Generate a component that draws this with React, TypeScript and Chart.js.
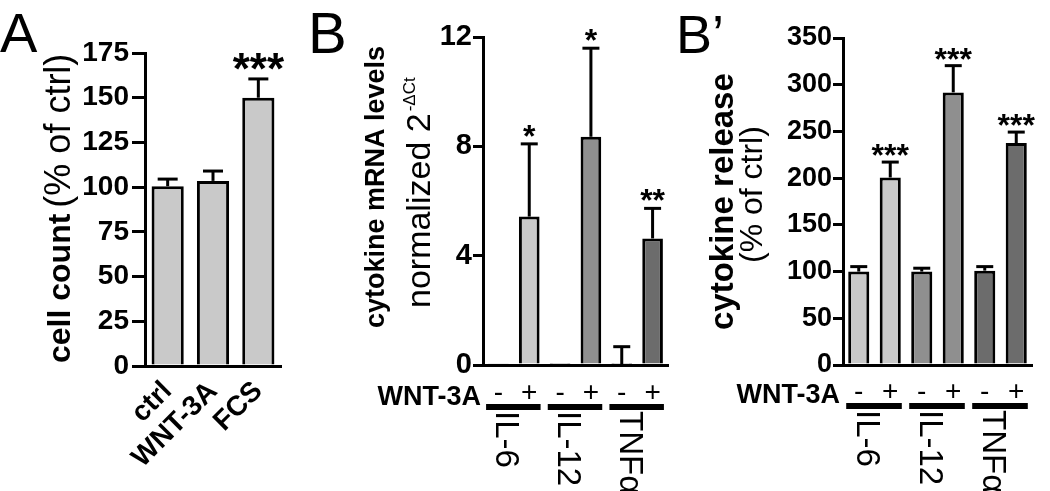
import React, { useEffect, useRef } from "react";
import { Chart, registerables } from "chart.js";

Chart.register(...registerables);

const FONT = '"Liberation Sans", Arial, Helvetica, sans-serif';
Chart.defaults.font.family = FONT;

// ---------- Panel A data ----------
const aCategories = ["ctrl", "WNT-3A", "FCS"];
const aValues = [100.5, 103.5, 150];
const aErrors = [4, 5.5, 10.5];
const aSignif = ["", "", "***"];

// ---------- Panels B / B' data ----------
const wntSigns = ["-", "+", "-", "+", "-", "+"];
const cytokines = ["IL-6", "IL-12", "TNFα"];
const mrnaValues = [0.05, 5.43, 0.03, 8.35, 0.02, 4.63];
const mrnaErrors = [0, 2.66, 0, 3.24, 0.65, 1.1];
const mrnaSignif = ["", "*", "", "*", "", "**"];
const releaseValues = [100, 200.7, 100, 291.8, 101, 237.5];
const releaseErrors = [5.3, 16.5, 3.6, 28.6, 4.3, 11.8];
const releaseSignif = ["", "***", "", "***", "", "***"];

const LIGHT = "#c9c9c9";
const cytokineColors = ["#c9c9c9", "#8f8f8f", "#6c6c6c"];

type Seg = { text: string; font: string; dy?: number; gap?: number };
type Title = { x: number; y: number; segs: Seg[] };

interface Panel {
  labels: string[];
  values: number[];
  errors: number[];
  signif: string[];
  colors: string[];
  yMax: number;
  yStep: number;
  area: { left: number; right: number; top: number; bottom: number };
  yFont: number;
  tickLen: number;
  tickPad: number;
  barPct: number;
  capW: number;
  starSize: number;
  starGap: number;
  xFontSize: number;
  xBold: boolean;
  xRotation: number;
  xPad: number;
  letter: { text: string; x: number; y: number; size: number };
  titles: Title[];
  groups?: { names: string[]; lineY: number; lineW: number; labelY: number; labelSize: number; wntX: number; wntY: number };
}

const bold = (s: number) => `bold ${s}px ${FONT}`;
const reg = (s: number) => `${s}px ${FONT}`;

const panels: Panel[] = [
  {
    labels: aCategories,
    values: aValues,
    errors: aErrors,
    signif: aSignif,
    colors: aCategories.map(() => LIGHT),
    yMax: 175,
    yStep: 25,
    area: { left: 145, right: 281, top: 53, bottom: 366 },
    yFont: 28,
    tickLen: 13,
    tickPad: 3,
    barPct: 0.71,
    capW: 20,
    starSize: 44,
    starGap: 9,
    xFontSize: 28,
    xBold: true,
    xRotation: 45,
    xPad: 9,
    letter: { text: "A", x: 0, y: 52, size: 56 },
    titles: [
      {
        x: 70,
        y: 363,
        segs: [
          { text: "cell count", font: bold(32) },
          { text: "(% of ctrl)", font: reg(36), gap: 6 },
        ],
      },
    ],
  },
  {
    labels: wntSigns,
    values: mrnaValues,
    errors: mrnaErrors,
    signif: mrnaSignif,
    colors: cytokines.flatMap((_, g) => [cytokineColors[g], cytokineColors[g]]),
    yMax: 12,
    yStep: 4,
    area: { left: 483, right: 668, top: 37, bottom: 365 },
    yFont: 29,
    tickLen: 10,
    tickPad: 1,
    barPct: 0.67,
    capW: 17,
    starSize: 32,
    starGap: 7,
    xFontSize: 28,
    xBold: false,
    xRotation: 0,
    xPad: 11,
    letter: { text: "B", x: 308, y: 53, size: 58 },
    titles: [
      { x: 384, y: 328, segs: [{ text: "cytokine mRNA levels", font: bold(27) }] },
      {
        x: 430,
        y: 308,
        segs: [
          { text: "normalized 2", font: reg(34) },
          { text: "-ΔCt", font: reg(17), dy: -15, gap: 2 },
        ],
      },
    ],
    groups: { names: cytokines, lineY: 407, lineW: 6, labelY: 411, labelSize: 33, wntX: 481, wntY: 405 },
  },
  {
    labels: wntSigns,
    values: releaseValues,
    errors: releaseErrors,
    signif: releaseSignif,
    colors: cytokines.flatMap((_, g) => [cytokineColors[g], cytokineColors[g]]),
    yMax: 350,
    yStep: 50,
    area: { left: 843, right: 1032, top: 38, bottom: 365 },
    yFont: 27,
    tickLen: 10,
    tickPad: 1,
    barPct: 0.67,
    capW: 17,
    starSize: 32,
    starGap: 6,
    xFontSize: 28,
    xBold: false,
    xRotation: 0,
    xPad: 10,
    letter: { text: "B\u2019", x: 676, y: 53, size: 54 },
    titles: [
      { x: 733, y: 330, segs: [{ text: "cytokine release", font: bold(33) }] },
      { x: 762, y: 263, segs: [{ text: "(% of ctrl)", font: reg(32) }] },
    ],
    groups: { names: cytokines, lineY: 406, lineW: 6, labelY: 410, labelSize: 33, wntX: 840, wntY: 403 },
  },
];

function drawRun(ctx: CanvasRenderingContext2D, x: number, y: number, angle: number, segs: Seg[]) {
  ctx.save();
  ctx.translate(x, y);
  ctx.rotate(angle);
  ctx.textAlign = "left";
  ctx.textBaseline = "alphabetic";
  ctx.fillStyle = "#000";
  let cx = 0;
  for (const s of segs) {
    cx += s.gap || 0;
    ctx.font = s.font;
    ctx.fillText(s.text, cx, s.dy || 0);
    cx += ctx.measureText(s.text).width;
  }
  ctx.restore();
}

function buildConfig(p: Panel): any {
  const overlay = {
    id: "overlay",
    afterDatasetsDraw(chart: any) {
      const ctx: CanvasRenderingContext2D = chart.ctx;
      const y = chart.scales.y;
      const meta = chart.getDatasetMeta(0);
      ctx.save();
      ctx.strokeStyle = "#000";
      ctx.fillStyle = "#000";
      ctx.lineWidth = 3;
      ctx.lineCap = "butt";
      // error bars
      meta.data.forEach((bar: any, i: number) => {
        const e = p.errors[i];
        if (!e) return;
        const top = y.getPixelForValue(p.values[i] + e);
        ctx.beginPath();
        ctx.moveTo(bar.x, bar.y);
        ctx.lineTo(bar.x, top);
        ctx.stroke();
        ctx.beginPath();
        ctx.moveTo(bar.x - p.capW / 2, top);
        ctx.lineTo(bar.x + p.capW / 2, top);
        ctx.stroke();
      });
      // significance stars
      ctx.font = bold(p.starSize);
      ctx.textAlign = "center";
      ctx.textBaseline = "alphabetic";
      meta.data.forEach((bar: any, i: number) => {
        const s = p.signif[i];
        if (!s) return;
        const top = y.getPixelForValue(p.values[i] + p.errors[i]);
        const m = ctx.measureText(s);
        const inkBottom = top - p.starGap;
        ctx.fillText(s, bar.x, inkBottom - m.actualBoundingBoxDescent);
      });
      ctx.restore();
    },
    afterDraw(chart: any) {
      const ctx: CanvasRenderingContext2D = chart.ctx;
      ctx.save();
      ctx.fillStyle = "#000";
      // panel letter
      ctx.font = reg(p.letter.size);
      ctx.textAlign = "left";
      ctx.textBaseline = "alphabetic";
      ctx.fillText(p.letter.text, p.letter.x, p.letter.y);
      // axis titles
      p.titles.forEach((t) => drawRun(ctx, t.x, t.y, -Math.PI / 2, t.segs));
      // grouping under x axis
      if (p.groups) {
        const g = p.groups;
        const meta = chart.getDatasetMeta(0);
        ctx.font = bold(27);
        ctx.textAlign = "right";
        ctx.fillText("WNT-3A", g.wntX, g.wntY);
        g.names.forEach((name, k) => {
          const a: any = meta.data[k * 2];
          const b: any = meta.data[k * 2 + 1];
          const x0 = a.x - a.width / 2 - 2;
          const x1 = b.x + b.width / 2 + 1;
          ctx.fillRect(x0, g.lineY - g.lineW / 2, x1 - x0, g.lineW);
          drawRun(ctx, a.x - 2, g.labelY, Math.PI / 2, [{ text: name, font: reg(g.labelSize) }]);
        });
      }
      ctx.restore();
    },
  };

  return {
    type: "bar",
    data: {
      labels: p.labels,
      datasets: [
        {
          data: p.values,
          backgroundColor: p.colors,
          borderColor: "#000",
          borderWidth: 3,
          barPercentage: p.barPct,
          categoryPercentage: 1,
        },
      ],
    },
    options: {
      responsive: false,
      animation: false,
      devicePixelRatio: 1,
      events: [],
      layout: { padding: { left: 0, top: p.area.top, right: 1050 - p.area.right, bottom: 0 } },
      plugins: { legend: { display: false }, tooltip: { enabled: false }, title: { display: false } },
      scales: {
        x: {
          ticks: {
            autoSkip: false,
            color: "#000",
            maxRotation: p.xRotation,
            minRotation: p.xRotation,
            padding: p.xPad,
            font: { family: FONT, size: p.xFontSize, weight: p.xBold ? "bold" : "normal" },
          },
          grid: { display: false, drawTicks: false },
          border: { display: true, width: 3, color: "#000" },
          afterFit: (s: any) => {
            s.height = 491 - p.area.bottom;
          },
        },
        y: {
          min: 0,
          max: p.yMax,
          ticks: {
            stepSize: p.yStep,
            color: "#000",
            padding: p.tickPad,
            font: { family: FONT, size: p.yFont, weight: "bold" },
          },
          grid: { drawOnChartArea: false, drawTicks: true, tickLength: p.tickLen, lineWidth: 3, color: "#000" },
          border: { display: true, width: 3, color: "#000" },
          afterFit: (s: any) => {
            s.width = p.area.left;
          },
        },
      },
    },
    plugins: [overlay],
  };
}

function PanelChart({ panel }: { panel: Panel }) {
  const ref = useRef<HTMLCanvasElement>(null);
  useEffect(() => {
    const chart = new Chart(ref.current as HTMLCanvasElement, buildConfig(panel));
    return () => chart.destroy();
  }, [panel]);
  return (
    <canvas
      ref={ref}
      width={1050}
      height={491}
      style={{ position: "absolute", left: 0, top: 0, width: 1050, height: 491 }}
    />
  );
}

export default function App() {
  return (
    <div style={{ position: "absolute", left: 0, top: 0, width: 1050, height: 491, background: "#fff", overflow: "hidden" }}>
      {panels.map((p, i) => (
        <PanelChart key={i} panel={p} />
      ))}
    </div>
  );
}
